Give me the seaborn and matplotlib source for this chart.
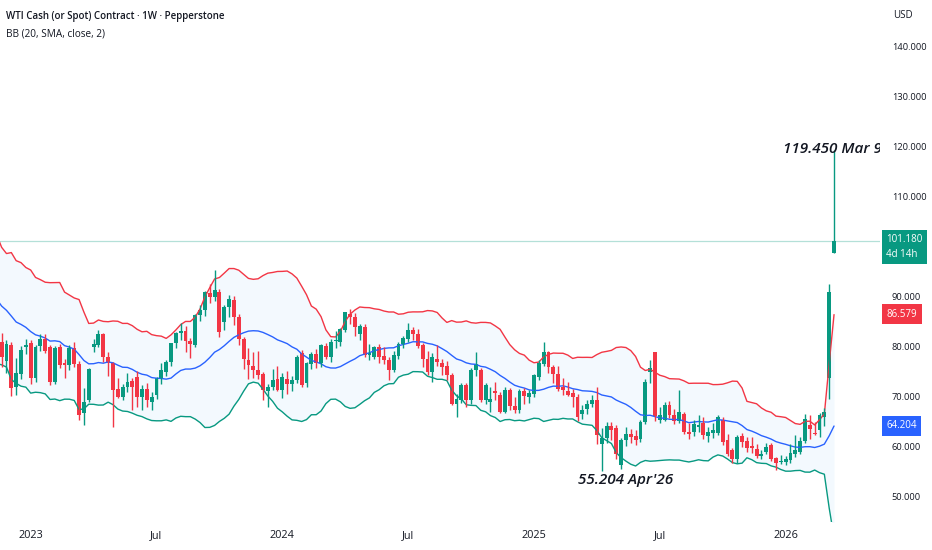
import numpy as np
import pandas as pd
import seaborn as sns
import matplotlib.pyplot as plt
import matplotlib.dates as mdates
import matplotlib.transforms as mtrans

# closes before the first visible week (Jul 4 - Nov 14 2022), they only feed the bands
warmup_close = [104.79, 97.59, 94.70, 98.62, 89.01, 92.09, 90.77, 93.06, 86.87, 86.79,
                85.11, 78.74, 79.49, 92.64, 85.61, 85.05, 87.90, 92.61, 88.96, 80.08]

# weekly candles, Nov 21 2022 .. Mar 9 2026
o = [81.0, 77.2, 80.4, 72.0, 74.6, 80.0,
     80.8, 73.8, 80.2, 81.6, 80.0, 73.0, 80.0, 76.8, 76.4, 79.8, 76.6, 66.8, 69.4, 80.0, 80.4, 82.6, 78.0, 76.8, 71.6, 70.1,
     72.1, 73.2, 74.0, 70.1, 71.7, 69.1, 70.4, 73.8, 75.0, 77.0, 80.8, 82.8, 83.2, 81.2, 80.4, 86.4, 87.4, 90.8, 90.0, 91.0,
     85.0, 88.0, 89.4, 86.0, 81.7, 77.4, 76.2, 75.5, 74.7, 71.3, 72.1, 73.7,
     71.4, 73.7, 72.7, 73.4, 78.8, 72.8, 76.6, 78.6, 76.8, 80.2, 78.0, 81.2, 81.0, 83.4, 86.6, 86.0, 82.6, 84.0, 78.4, 78.1,
     80.1, 78.2, 77.4, 75.4, 78.2, 80.7, 81.7, 83.5, 82.7, 80.4, 77.6, 75.0, 77.6, 76.7, 76.3, 74.4, 68.7, 69.4, 72.4, 69.4,
     75.5, 75.4, 69.4, 69.0, 71.2, 70.4, 67.1, 71.5, 68.2, 67.4, 71.2, 70.1,
     70.7, 74.1, 76.7, 79.0, 76.0, 74.7, 72.0, 71.2, 70.7, 70.0, 66.7, 67.7, 68.7, 69.4, 60.7, 61.9, 64.2, 63.9, 56.4, 61.5,
     62.6, 62.2, 61.7, 65.0, 75.1, 79.0, 65.5, 65.5, 68.4, 66.4, 65.2, 66.7, 63.1, 63.0, 64.0, 64.7, 62.3, 62.9, 62.9, 65.5,
     61.5, 59.4, 57.7, 62.2, 61.2, 60.2, 59.7, 58.2, 59.1, 60.4, 57.7, 57.0,
     57.1, 57.4, 58.7, 59.0, 61.2, 64.4, 62.8, 63.4, 66.0, 73.9, 98.9]
h = [82.8, 81.4, 81.0, 77.8, 80.2, 81.6,
     81.4, 80.4, 82.6, 82.6, 80.4, 80.2, 80.6, 77.6, 80.4, 81.0, 77.2, 71.8, 75.8, 81.6, 83.4, 82.8, 79.0, 77.0, 73.8, 72.6,
     74.8, 73.8, 75.2, 72.4, 72.8, 71.0, 74.0, 76.8, 77.4, 80.9, 83.0, 84.8, 84.2, 81.8, 86.6, 88.4, 91.2, 92.6, 95.4, 91.6,
     88.4, 90.4, 90.2, 86.6, 82.0, 79.8, 79.0, 79.2, 75.0, 72.6, 75.6, 76.2,
     74.8, 75.2, 74.2, 78.4, 79.4, 77.0, 79.0, 79.6, 80.6, 80.8, 81.6, 83.2, 83.8, 87.0, 87.6, 86.8, 84.6, 84.6, 80.6, 80.2,
     80.6, 80.0, 78.0, 79.2, 81.0, 82.2, 84.8, 84.0, 83.6, 80.8, 79.2, 78.8, 80.4, 77.6, 77.2, 74.8, 70.6, 72.8, 72.8, 75.8,
     79.1, 75.8, 72.8, 72.0, 73.0, 71.0, 72.0, 71.8, 70.0, 71.6, 71.8, 71.4,
     74.6, 77.4, 81.0, 79.2, 76.4, 76.2, 73.8, 73.0, 71.6, 70.6, 68.4, 69.4, 70.4, 72.0, 63.8, 65.0, 65.0, 64.4, 61.8, 64.0,
     63.6, 63.4, 65.4, 73.6, 77.4, 79.0, 68.0, 69.0, 69.2, 67.6, 71.4, 67.0, 64.8, 65.4, 66.4, 66.0, 64.0, 64.8, 66.4, 66.0,
     62.6, 59.8, 62.4, 62.8, 62.0, 62.0, 60.6, 59.4, 60.8, 60.8, 58.0, 58.4,
     58.2, 60.6, 62.4, 62.0, 66.6, 66.4, 65.1, 66.8, 67.8, 92.6, 119.45]
l = [76.0, 74.8, 70.2, 70.5, 73.6, 78.6,
     72.6, 73.0, 79.2, 78.8, 72.4, 72.6, 75.8, 73.8, 75.4, 76.0, 65.4, 64.4, 69.0, 79.0, 80.0, 77.0, 74.2, 64.0, 69.8, 69.4,
     71.0, 67.4, 68.0, 67.4, 68.0, 67.4, 69.6, 72.6, 74.2, 76.2, 79.8, 81.4, 79.0, 77.8, 80.0, 85.2, 86.2, 88.8, 89.2, 82.0,
     83.4, 86.0, 84.4, 80.4, 75.6, 73.6, 73.8, 73.6, 69.4, 68.0, 71.4, 71.2,
     69.8, 70.6, 71.2, 72.8, 72.0, 72.0, 75.6, 75.8, 76.0, 77.6, 77.0, 79.8, 80.2, 83.0, 84.6, 82.2, 81.4, 78.0, 77.4, 77.6,
     76.8, 76.6, 73.4, 75.0, 77.6, 79.8, 81.0, 81.4, 79.8, 76.0, 74.4, 73.0, 76.2, 74.4, 73.4, 68.4, 66.0, 68.8, 68.0, 68.6,
     74.2, 69.0, 68.6, 67.0, 69.4, 66.8, 66.8, 67.4, 66.8, 66.8, 68.6, 68.8,
     70.0, 73.4, 76.2, 74.8, 72.8, 71.2, 70.4, 70.2, 68.0, 65.2, 65.6, 66.6, 68.0, 60.6, 55.2, 60.8, 61.4, 57.6, 55.6, 60.2,
     60.8, 60.4, 61.0, 64.6, 72.8, 65.2, 64.8, 65.2, 65.8, 64.6, 64.8, 62.6, 61.6, 62.2, 63.0, 61.6, 61.0, 61.8, 62.4, 60.4,
     58.2, 56.8, 56.8, 60.0, 59.0, 58.8, 57.8, 57.6, 58.6, 57.2, 55.4, 56.6,
     56.4, 56.8, 58.0, 58.6, 60.8, 61.7, 62.4, 62.0, 64.3, 69.7, 98.9]
c = [78.0, 80.6, 71.8, 74.8, 79.4, 80.4,
     73.8, 80.0, 81.6, 79.2, 73.0, 79.8, 76.4, 76.4, 79.8, 76.6, 66.4, 69.0, 75.6, 80.6, 82.6, 78.0, 76.8, 71.4, 70.0, 72.1,
     73.0, 72.1, 70.0, 71.6, 69.4, 69.9, 73.8, 75.4, 77.1, 80.8, 82.8, 83.2, 81.2, 80.6, 86.4, 87.4, 91.0, 90.0, 91.4, 83.0,
     88.0, 89.6, 86.0, 81.7, 77.7, 76.4, 75.4, 74.4, 71.4, 72.1, 73.5, 71.4,
     74.0, 72.7, 73.4, 78.0, 72.4, 76.8, 78.6, 76.8, 80.4, 78.0, 81.0, 81.4, 83.6, 87.0, 86.0, 84.0, 84.2, 78.4, 78.8, 80.1,
     78.1, 77.4, 75.4, 78.4, 80.7, 81.9, 83.5, 82.7, 80.2, 77.6, 75.0, 78.0, 77.0, 76.1, 74.4, 68.7, 69.7, 72.4, 69.4, 75.4,
     76.7, 69.4, 72.4, 69.7, 70.9, 67.1, 71.5, 68.2, 67.4, 71.2, 70.2, 70.8,
     74.4, 76.7, 79.0, 76.0, 74.7, 71.7, 71.4, 70.4, 70.1, 66.1, 67.4, 68.7, 69.4, 62.4, 61.9, 64.2, 63.5, 58.7, 61.4, 62.6,
     62.0, 61.4, 65.0, 73.0, 75.7, 66.2, 66.5, 68.4, 66.4, 65.2, 67.1, 63.1, 62.6, 64.7, 64.4, 62.4, 63.0, 63.5, 65.9, 61.1,
     58.7, 57.7, 62.1, 61.0, 59.8, 59.9, 58.2, 58.7, 60.1, 57.7, 56.9, 57.2,
     57.7, 58.7, 59.4, 61.2, 65.6, 63.7, 62.6, 66.3, 67.0, 91.0, 101.18]

tick_dates = ['2023-01-02', '2023-07-03', '2024-01-01', '2024-07-01', '2024-12-30', '2025-06-30', '2025-12-29']
tick_names = ['2023', 'Jul', '2024', 'Jul', '2025', 'Jul', '2026']
price_ticks = [50, 60, 70, 80, 90, 110, 120, 130, 140]

last_price = 101.18
upper_label = '86.579'
basis_label = '64.204'
high_text = "119.450 Mar 9'26"
low_text = "55.204 Apr'26"

GREEN = '#089981'
RED = '#F23645'
BLUE = '#2962FF'
INK = '#131722'

sns.set_style('white')
plt.rcParams['font.family'] = ['Open Sans', 'DejaVu Sans']

# bands: BB(20, SMA, close, 2)
all_close = pd.Series(warmup_close + c)
all_dates = pd.date_range('2022-07-04', periods=len(all_close), freq='7D')
basis = all_close.rolling(20).mean()
dev = all_close.rolling(20).std(ddof=0)
bands = pd.DataFrame({'date': all_dates, 'basis': basis,
                      'upper': basis + 2 * dev, 'lower': basis - 2 * dev}).dropna()

n_warm = len(warmup_close)
dates = all_dates[n_warm:]
xs = mdates.date2num(dates)

fig = plt.figure(figsize=(9.32, 5.5), dpi=100)
ax = fig.add_axes([0, 28 / 550, 880 / 932, 522 / 550])

ax.fill_between(bands['date'], bands['lower'], bands['upper'], color='#2196F3', alpha=0.05, lw=0)
sns.lineplot(data=bands, x='date', y='upper', ax=ax, color=RED, lw=1)
sns.lineplot(data=bands, x='date', y='basis', ax=ax, color=BLUE, lw=1)
sns.lineplot(data=bands, x='date', y='lower', ax=ax, color=GREEN, lw=1)

op, hi, lo, cl = map(np.array, (o, h, l, c))
cols = np.where(cl >= op, GREEN, RED)
ax.vlines(xs, lo, hi, colors=cols, lw=1)
body = np.maximum(np.abs(cl - op), 0.2)
ax.bar(xs, body, bottom=np.minimum(op, cl), width=5.6, color=cols, lw=0)

ax.axhline(last_price, color=GREEN, alpha=0.3, lw=0.9)

x0 = mdates.date2num(pd.Timestamp('2023-01-02'))
ax.set_xlim(x0 - 6.34 * 7, x0 + 175.5 * 7)
ax.set_ylim(45.0, 149.4)

ax.set_xticks(mdates.date2num(pd.to_datetime(tick_dates)))
ax.set_xticklabels(tick_names)
ax.yaxis.tick_right()
ax.set_yticks(price_ticks)
ax.set_yticklabels([f'{v:.3f}' for v in price_ticks])
ax.tick_params(axis='x', length=0, pad=6, labelsize=7.8, labelcolor=INK)
ax.tick_params(axis='y', length=0, pad=8.5, labelsize=6.7, labelcolor=INK)
ax.set_xlabel('')
ax.set_ylabel('')
sns.despine(ax=ax, left=True, bottom=True, right=True, top=True)

# high / low labels
note_font = ['Open Sans', 'DejaVu Sans']
ax.text(x0 + 155.4 * 7, 119.6, high_text, fontsize=11, style='italic', weight='semibold',
        family=note_font, color=INK, va='center', ha='left', clip_on=True)
ax.text(x0 + 113.0 * 7, 53.4, low_text, fontsize=11, style='italic', weight='semibold',
        family=note_font, color=INK, va='center', ha='left', clip_on=True)

# price scale badges
trans = mtrans.blended_transform_factory(ax.transAxes, ax.transData)
bx = 886.5 / 880
ax.text(bx, 102.5, f'{last_price:.3f}\n4d 14h', transform=trans, ha='left', va='top',
        fontsize=7.0, color='white', linespacing=1.4, clip_on=False,
        bbox=dict(boxstyle='square,pad=0.45', fc=GREEN, ec='none'))
ax.text(bx, float(upper_label), upper_label, transform=trans, ha='left', va='center',
        fontsize=7.0, color='white', clip_on=False,
        bbox=dict(boxstyle='square,pad=0.45', fc=RED, ec='none'))
ax.text(bx, float(basis_label), basis_label, transform=trans, ha='left', va='center',
        fontsize=7.0, color='white', clip_on=False,
        bbox=dict(boxstyle='square,pad=0.45', fc=BLUE, ec='none'))

fig.text(6 / 932, 1 - 16 / 550, 'WTI Cash (or Spot) Contract · 1W · Pepperstone',
         fontsize=7.0, weight='semibold', color=INK, va='center')
fig.text(6 / 932, 1 - 34 / 550, 'BB (20, SMA, close, 2)', fontsize=7.2, color=INK, va='center')
fig.text(893 / 932, 1 - 16 / 550, 'USD', fontsize=7.0, color=INK, va='center')

fig.savefig('out.png', dpi=100, facecolor='white')
